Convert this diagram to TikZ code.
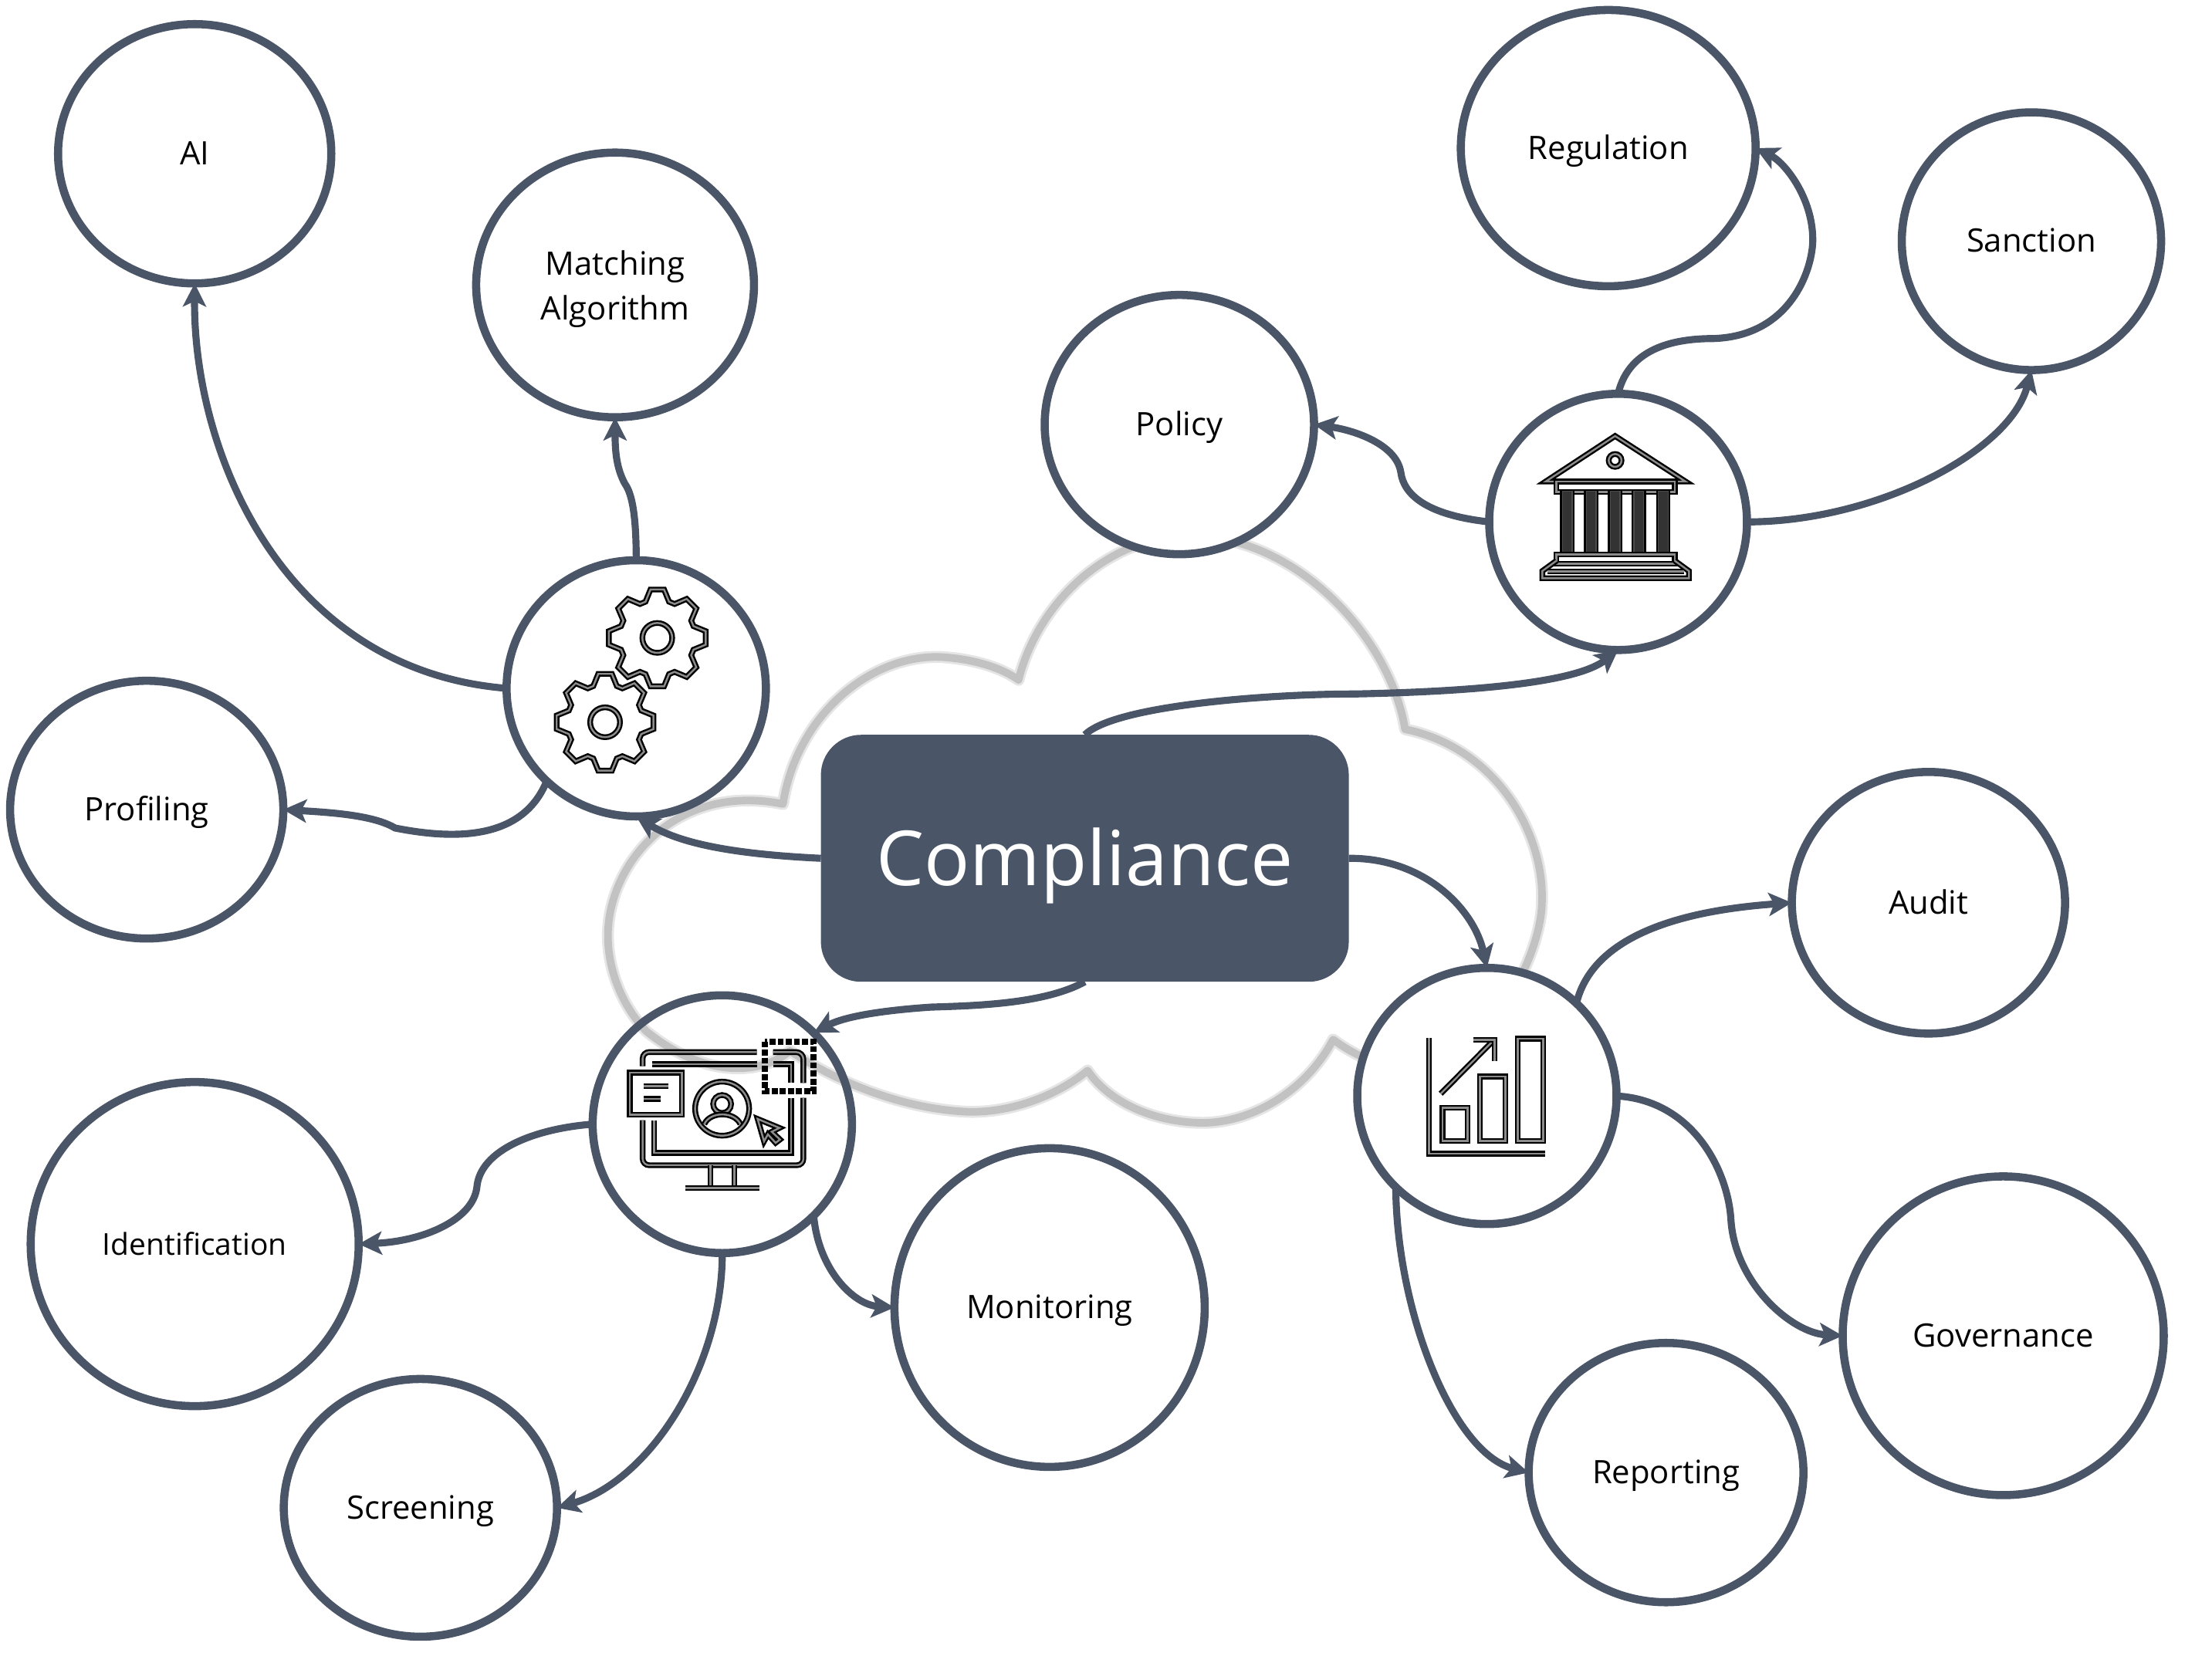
\documentclass[tikz,border=0pt]{standalone}
\usepackage{xcolor}
\usepackage{fontspec}
\setmainfont{Open Sans}
\usepackage{tikz}
\usetikzlibrary{shapes.geometric, arrows.meta}
\definecolor{slate}{HTML}{4A5568}
\tikzstyle{arrow} = [draw=slate, line width=2.6pt, ->, >={Stealth[length=3mm, width=3mm, inset=0.7mm]}]
\tikzstyle{bubble} = [ellipse, draw=slate, line width=3pt, fill=white, inner sep=0pt, outer sep=0pt, align=center, text=black, text height=10pt, text depth=1.8pt, font=\fontsize{11.9}{16.6}\selectfont]
\tikzstyle{hub} = [rectangle, rounded corners=5.2mm, fill=slate, text=white, minimum width=68.4mm, minimum height=32mm, outer sep=0pt, text height=20.5pt, text depth=0.5pt, font=\fontsize{28}{32}\selectfont]
\tikzstyle{cloudline} = [draw=black!24, line width=2.8pt, line join=round]
\tikzstyle{cloudglow} = [draw=black!10, line width=4.4pt, line join=round]
\tikzstyle{icon} = [draw=black, line width=0.7pt, double=black!45, double distance=0.7pt, miter limit=4]
\begin{document}
\begin{tikzpicture}[x=0.18278mm, y=-0.18278mm]
    \useasboundingbox (0,0) rectangle (1568,1178.5);

    % Nube de fondo
    \foreach \pen in {cloudglow, cloudline} {
        \draw [\pen] (555,570) .. controls (565,505) and (620,462) .. (670,466) .. controls (695,468) and (712,475) .. (722,482)
            .. controls (735,430) and (780,385) .. (835,380) .. controls (915,375) and (985,450) .. (996,517)
            .. controls (1060,530) and (1095,590) .. (1093,640) .. controls (1092,690) and (1030,800) .. (945,737)
            .. controls (925,775) and (885,797) .. (850,796) .. controls (815,795) and (785,780) .. (771,759)
            .. controls (745,780) and (710,790) .. (682,788) .. controls (635,785) and (590,765) .. (560,745)
            .. controls (540,762) and (500,765) .. (458,731) .. controls (440,712) and (430,685) .. (431,660)
            .. controls (433,610) and (480,555) .. (555,570) -- cycle;
    }

    % Nodo central
    \node (compliance) [hub] at (769,608.5) {Compliance};

    % Circulos con icono
    \node (gears) [bubble, minimum width=33.6mm, minimum height=33.2mm] at (451,488) {};
    \node (bank) [bubble, minimum width=33.4mm, minimum height=33.2mm] at (1147,370) {};
    \node (chart) [bubble, minimum width=33.6mm, minimum height=33.2mm] at (1054,777) {};
    \node (screen) [bubble, fill=none, minimum width=33.6mm, minimum height=33.4mm] at (512,797) {};

    % Circulos con texto
    \node (ai) [bubble, minimum width=35.4mm, minimum height=33.6mm] at (138,109) {AI};
    \node (matching) [bubble, text height=28.6pt, text depth=2.8pt, minimum width=36mm, minimum height=34.3mm] at (436,202) {Matching\\Algorithm};
    \node (profiling) [bubble, minimum width=35.4mm, minimum height=33.4mm] at (104,574) {Profiling};
    \node (regulation) [bubble, minimum width=38.2mm, minimum height=35.8mm] at (1140,105) {Regulation};
    \node (sanction) [bubble, minimum width=33.6mm, minimum height=33.4mm] at (1440,171) {Sanction};
    \node (policy) [bubble, minimum width=34.9mm, minimum height=33.6mm] at (836,301) {Policy};
    \node (audit) [bubble, minimum width=35.4mm, minimum height=33.9mm] at (1367,640) {Audit};
    \node (governance) [bubble, minimum width=41.6mm, minimum height=41.3mm] at (1420,947) {Governance};
    \node (reporting) [bubble, minimum width=35.6mm, minimum height=33.6mm] at (1181,1044) {Reporting};
    \node (monitoring) [bubble, minimum width=40.2mm, minimum height=41.3mm] at (744,927) {Monitoring};
    \node (identification) [bubble, font=\fontsize{11.1}{16.6}\selectfont, minimum width=42.5mm, minimum height=42mm] at (138,882) {Identification};
    \node (screening) [bubble, minimum width=35.4mm, minimum height=33.4mm] at (298,1069) {Screening};

    % Flechas
    \draw [arrow] (compliance.west) .. controls (530,606) and (485,600) .. (gears.south);
    \draw [arrow] (compliance.north) .. controls (790,500) and (900,492) .. (960,492) .. controls (1060,490) and (1120,482) .. (bank.south);
    \draw [arrow] (compliance.east) .. controls (1010,608) and (1045,645) .. (chart.north);
    \draw [arrow] (compliance.south) .. controls (740,712) and (690,713) .. (660,714) .. controls (630,716) and (600,720) .. (screen.45);

    \draw [arrow] (gears.west) .. controls (200,475) and (137,320) .. (ai.south);
    \draw [arrow] (gears.north) .. controls (451,365) and (448,350) .. (443,343) .. controls (437,332) and (436,320) .. (matching.south);
    \draw [arrow] (gears.226) .. controls (372,592) and (330,597) .. (280,587) .. controls (265,578) and (235,576) .. (profiling.east);

    \draw [arrow] (bank.north) .. controls (1155,245) and (1190,240) .. (1215,240) .. controls (1270,238) and (1285,190) .. (1285,170) .. controls (1285,140) and (1265,115) .. (regulation.east);
    \draw [arrow] (bank.east) .. controls (1330,370) and (1425,320) .. (sanction.south);
    \draw [arrow] (bank.west) .. controls (1010,365) and (995,350) .. (993,335) .. controls (990,315) and (960,305) .. (policy.east);

    \draw [arrow] (chart.46) .. controls (1130,660) and (1200,645) .. (audit.west);
    \draw [arrow] (chart.east) .. controls (1200,780) and (1225,830) .. (1227,865) .. controls (1230,910) and (1270,945) .. (governance.west);
    \draw [arrow] (chart.225) .. controls (990,930) and (1030,1030) .. (reporting.west);

    \draw [arrow] (screen.west) .. controls (380,800) and (340,815) .. (338,842) .. controls (335,865) and (300,880) .. (identification.east);
    \draw [arrow] (screen.south) .. controls (512,970) and (460,1050) .. (screening.east);
    \draw [arrow] (screen.-45) .. controls (580,900) and (605,925) .. (monitoring.west);

    % Icono engranajes
    \foreach \gx/\gy in {635/380, 432/708} {
        \begin{scope}[shift={(640/1.8278,700/1.8278)}, x=0.03333mm, y=-0.03333mm, shift={(\gx,\gy)}]
            \draw [icon] (-8:190) \foreach \a in {0,45,...,315} { -- (\a-8:190) -- (\a+8:190) -- (\a+18:148) -- (\a+27:148) } -- cycle;
            \draw [icon] (0,0) circle [radius=58];
        \end{scope}
    }

    % Icono edificio
    \begin{scope}[shift={(1920/1.8278,500/1.8278)}, x=0.03333mm, y=-0.03333mm]
        \draw [icon] (248,372) -- (518,195) -- (792,372) -- cycle;
        \draw [icon] (518,290) circle [radius=25];
        \draw [icon] (290,372) rectangle (750,412);
        \foreach \cx in {332,425,518,610,705} {
            \draw [icon, double=black!70] (\cx-17,412) rectangle (\cx+17,655);
            \fill [black!80] (\cx-17,412) rectangle (\cx+17,655);
        }
        \draw [icon] (290,655) rectangle (750,692);
        \draw [icon] (290,680) -- (235,720) -- (235,748) -- (805,748) -- (805,720) -- (750,680);
        \draw [icon] (255,722) -- (785,722);
    \end{scope}

    % Icono monitor
    \begin{scope}[shift={(760/1.8278,1280/1.8278)}, x=0.03333mm, y=-0.03333mm]
        \draw [icon] (218,305) -- (218,275) arc [start angle=180, end angle=270, radius=25] -- (662,250);
        \draw [icon] (725,250) -- (815,250) arc [start angle=270, end angle=360, radius=28] -- (843,370);
        \draw [icon] (843,428) -- (843,665) arc [start angle=0, end angle=90, radius=25] -- (243,690) arc [start angle=90, end angle=180, radius=25] -- (218,515);
        \draw [icon] (255,297) -- (662,297);
        \draw [icon] (725,297) -- (795,297) -- (795,370);
        \draw [icon] (795,428) -- (795,642) -- (262,642) -- (262,515);
        \draw [icon] (168,330) rectangle (370,493);
        \draw [icon] (222,383) -- (318,383);
        \draw [icon] (222,432) -- (288,432);
        \draw [icon] (527,470) circle [radius=105];
        \draw [icon] (527,452) circle [radius=35];
        \draw [icon] (458,530) .. controls (480,480) and (575,480) .. (598,530);
        \draw [icon] (665,510) -- (750,545) -- (720,560) -- (752,590) -- (735,603) -- (705,570) -- (690,597) -- cycle;
        \draw [icon] (482,690) -- (482,775);
        \draw [icon] (575,690) -- (575,775);
        \draw [icon] (385,778) -- (672,778);
        \draw [draw=black, line width=2.3pt, dash pattern=on 2.2pt off 0.8pt] (692,209) rectangle (883,403);
    \end{scope}

    % Icono barras
    \begin{scope}[shift={(1760/1.8278,1260/1.8278)}, x=0.03333mm, y=-0.03333mm]
        \draw [icon] (275,255) -- (275,705) -- (725,705);
        \draw [icon] (327,527) rectangle (425,655);
        \draw [icon] (472,405) rectangle (572,655);
        \draw [icon] (620,258) rectangle (718,655);
        \draw [icon] (320,472) -- (525,265);
        \draw [icon] (448,262) -- (530,262) -- (530,345);
    \end{scope}
\end{tikzpicture}
\end{document}
